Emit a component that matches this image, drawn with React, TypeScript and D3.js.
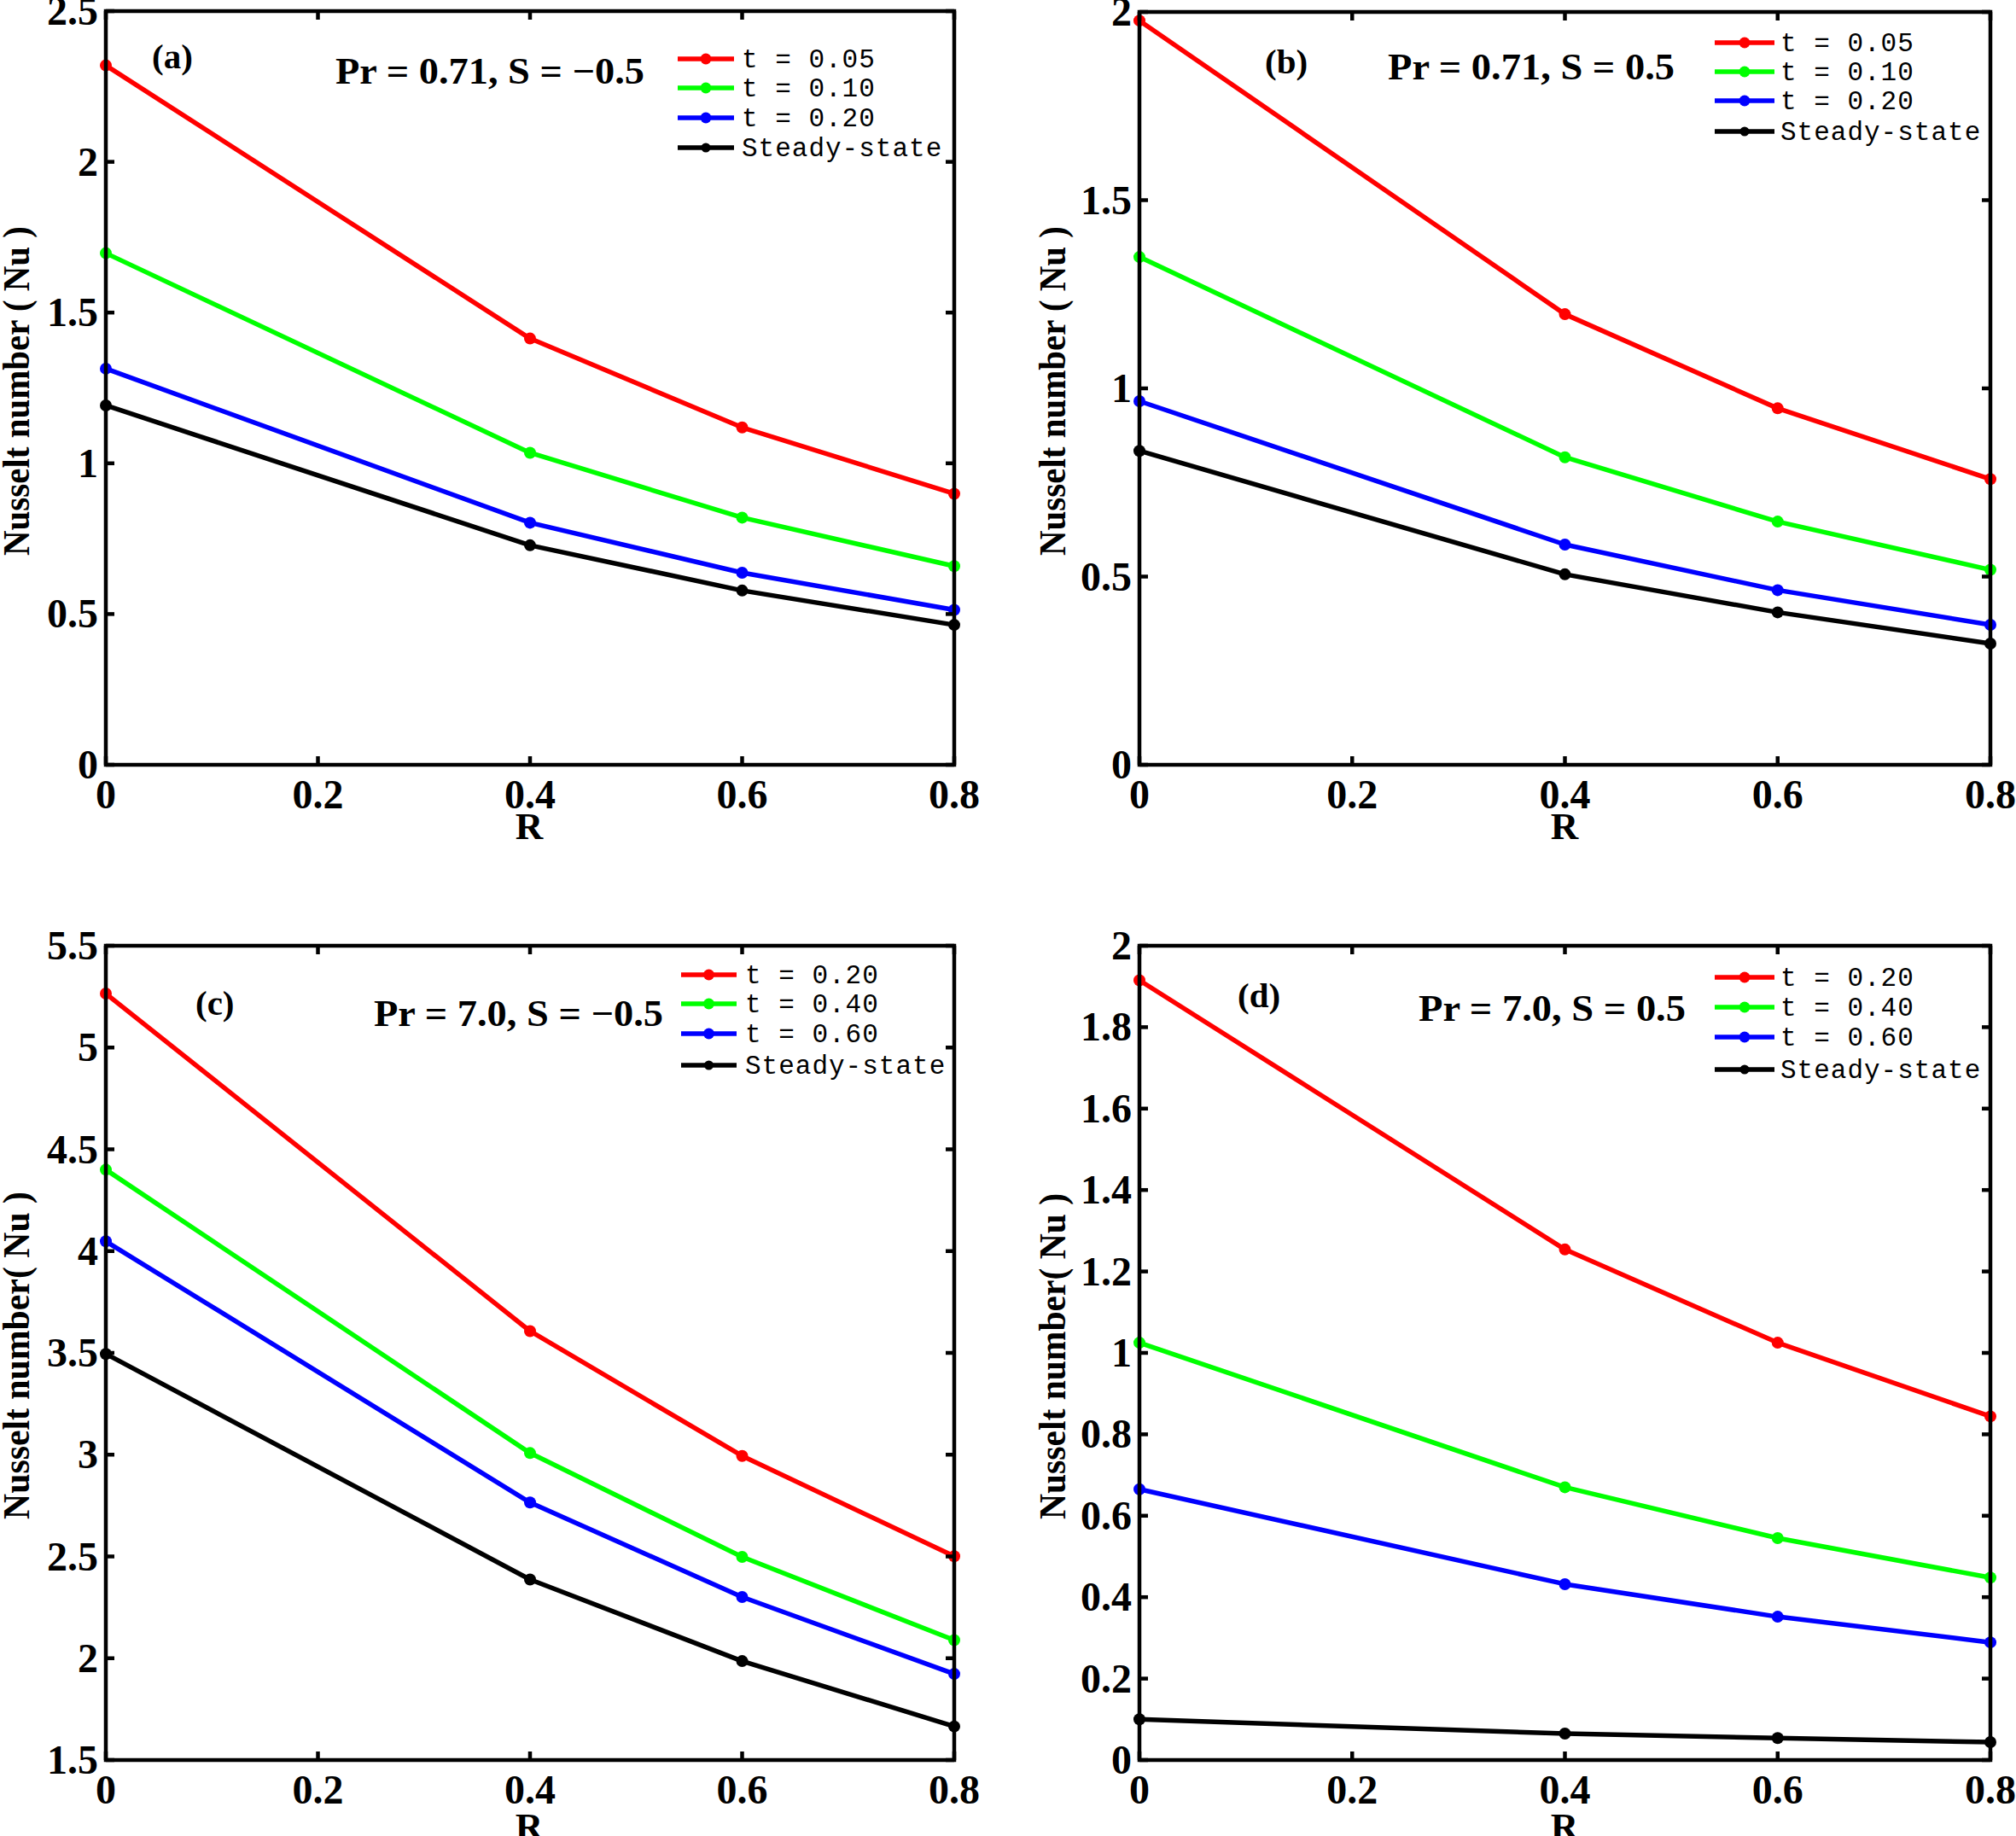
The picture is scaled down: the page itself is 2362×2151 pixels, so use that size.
import React from "react";
import * as d3 from "d3";

// ---------- data ----------
const R_VALUES = [0, 0.4, 0.6, 0.8];
const X_TICKS = [0, 0.2, 0.4, 0.6, 0.8];

const A_T005 = [2.32, 1.414, 1.119, 0.899];
const A_T010 = [1.697, 1.035, 0.82, 0.659];
const A_T020 = [1.314, 0.803, 0.637, 0.514];
const A_STEADY = [1.192, 0.728, 0.578, 0.464];

const B_T005 = [1.977, 1.197, 0.947, 0.759];
const B_T010 = [1.349, 0.817, 0.646, 0.518];
const B_T020 = [0.966, 0.585, 0.464, 0.372];
const B_STEADY = [0.834, 0.506, 0.405, 0.322];

const C_T020 = [5.265, 3.607, 2.994, 2.501];
const C_T040 = [4.4, 3.008, 2.498, 2.089];
const C_T060 = [4.048, 2.765, 2.301, 1.923];
const C_STEADY = [3.495, 2.387, 1.986, 1.665];

const D_T020 = [1.915, 1.254, 1.025, 0.844];
const D_T040 = [1.025, 0.67, 0.545, 0.448];
const D_T060 = [0.665, 0.432, 0.352, 0.289];
const D_STEADY = [0.1, 0.065, 0.054, 0.044];

const LEGEND_AB = ["t = 0.05", "t = 0.10", "t = 0.20", "Steady-state"];
const LEGEND_CD = ["t = 0.20", "t = 0.40", "t = 0.60", "Steady-state"];

const A_YTICKS = [0, 0.5, 1, 1.5, 2, 2.5];
const B_YTICKS = [0, 0.5, 1, 1.5, 2];
const C_YTICKS = [1.5, 2, 2.5, 3, 3.5, 4, 4.5, 5, 5.5];
const D_YTICKS = [0, 0.2, 0.4, 0.6, 0.8, 1, 1.2, 1.4, 1.6, 1.8, 2];

const COLORS = ["#ff0000", "#00ff00", "#0000ff", "#000000"];

const SERIF = "'Liberation Serif', 'Times New Roman', serif";
const MONO = "'Liberation Mono', 'DejaVu Sans Mono', monospace";

const fmt = (v: number) => String(+v.toFixed(2));

type PanelCfg = {
  series: number[][];
  legend: string[];
  yTicks: number[];
  yDomain: [number, number];
  label: string;
  params: string;
  yTitle: string;
  box: { x0: number; x1: number; y0: number; y1: number };
  legendPos: { lx0: number; lx1: number; tx: number; rows: number[] };
  labelPos: { x: number; y: number };
  paramsPos: { x0: number; x1: number; y: number };
  yTitlePos: { x: number; y0: number; y1: number };
  rTitle: { x: number; y: number };
};

const PANELS: PanelCfg[] = [
  {
    series: [A_T005, A_T010, A_T020, A_STEADY],
    legend: LEGEND_AB,
    yTicks: A_YTICKS,
    yDomain: [0, 2.5],
    label: "(a)",
    params: "Pr = 0.71, S = \u22120.5",
    yTitle: "Nusselt number ( Nu )",
    box: { x0: 124, x1: 1118, y0: 13, y1: 896 },
    legendPos: { lx0: 794, lx1: 860, tx: 869, rows: [69, 103, 138, 173] },
    labelPos: { x: 178, y: 80 },
    paramsPos: { x0: 393, x1: 755, y: 98 },
    yTitlePos: { x: 19, y0: 265, y1: 651 },
    rTitle: { x: 620, y: 983 },
  },
  {
    series: [B_T005, B_T010, B_T020, B_STEADY],
    legend: LEGEND_AB,
    yTicks: B_YTICKS,
    yDomain: [0, 2],
    label: "(b)",
    params: "Pr = 0.71, S = 0.5",
    yTitle: "Nusselt number ( Nu )",
    box: { x0: 1335, x1: 2332, y0: 14, y1: 896 },
    legendPos: { lx0: 2009, lx1: 2079, tx: 2086, rows: [50, 84, 118, 154] },
    labelPos: { x: 1482, y: 86 },
    paramsPos: { x0: 1626, x1: 1962, y: 93 },
    yTitlePos: { x: 1233, y0: 265, y1: 651 },
    rTitle: { x: 1833, y: 983 },
  },
  {
    series: [C_T020, C_T040, C_T060, C_STEADY],
    legend: LEGEND_CD,
    yTicks: C_YTICKS,
    yDomain: [1.5, 5.5],
    label: "(c)",
    params: "Pr = 7.0, S = \u22120.5",
    yTitle: "Nusselt number( Nu )",
    box: { x0: 124, x1: 1118, y0: 1108, y1: 2062 },
    legendPos: { lx0: 798, lx1: 863, tx: 873, rows: [1142, 1176, 1211, 1248] },
    labelPos: { x: 229, y: 1189 },
    paramsPos: { x0: 438, x1: 777, y: 1202 },
    yTitlePos: { x: 19, y0: 1396, y1: 1780 },
    rTitle: { x: 620, y: 2155 },
  },
  {
    series: [D_T020, D_T040, D_T060, D_STEADY],
    legend: LEGEND_CD,
    yTicks: D_YTICKS,
    yDomain: [0, 2],
    label: "(d)",
    params: "Pr = 7.0, S = 0.5",
    yTitle: "Nusselt number( Nu )",
    box: { x0: 1335, x1: 2332, y0: 1108, y1: 2062 },
    legendPos: { lx0: 2009, lx1: 2079, tx: 2086, rows: [1145, 1180, 1215, 1253] },
    labelPos: { x: 1450, y: 1180 },
    paramsPos: { x0: 1662, x1: 1975, y: 1196 },
    yTitlePos: { x: 1233, y0: 1398, y1: 1780 },
    rTitle: { x: 1833, y: 2155 },
  },
];

const TICK = 10;
const AXIS_W = 4.5;
const LINE_W = 5.5;
const MARK_R = 7;
const TICK_FS = 48;

function Panel({ cfg }: { cfg: PanelCfg }) {
  const { box } = cfg;
  const x = d3.scaleLinear().domain([0, 0.8]).range([box.x0, box.x1]);
  const y = d3.scaleLinear().domain(cfg.yDomain).range([box.y1, box.y0]);
  const line = d3
    .line<number>()
    .x((_, i) => x(R_VALUES[i]))
    .y((d) => y(d));

  const yMid = (cfg.yTitlePos.y0 + cfg.yTitlePos.y1) / 2;
  const yLen = cfg.yTitlePos.y1 - cfg.yTitlePos.y0;

  return (
    <g>
      {/* series */}
      {cfg.series.map((s, si) => (
        <g key={si}>
          <path d={line(s) || ""} fill="none" stroke={COLORS[si]} strokeWidth={LINE_W} strokeLinejoin="round" />
          {s.map((v, i) => (
            <circle key={i} cx={x(R_VALUES[i])} cy={y(v)} r={MARK_R} fill={COLORS[si]} />
          ))}
        </g>
      ))}

      {/* ticks */}
      {X_TICKS.map((t) => (
        <g key={"xt" + t}>
          <line x1={x(t)} x2={x(t)} y1={box.y1} y2={box.y1 - TICK} stroke="#000" strokeWidth={AXIS_W} />
          <line x1={x(t)} x2={x(t)} y1={box.y0} y2={box.y0 + TICK} stroke="#000" strokeWidth={AXIS_W} />
          <text x={x(t)} y={box.y1 + 51} textAnchor="middle" fontFamily={SERIF} fontWeight="bold" fontSize={TICK_FS}>
            {fmt(t)}
          </text>
        </g>
      ))}
      {cfg.yTicks.map((t) => (
        <g key={"yt" + t}>
          <line x1={box.x0} x2={box.x0 + TICK} y1={y(t)} y2={y(t)} stroke="#000" strokeWidth={AXIS_W} />
          <line x1={box.x1} x2={box.x1 - TICK} y1={y(t)} y2={y(t)} stroke="#000" strokeWidth={AXIS_W} />
          <text x={box.x0 - 9} y={y(t) + 16} textAnchor="end" fontFamily={SERIF} fontWeight="bold" fontSize={TICK_FS}>
            {fmt(t)}
          </text>
        </g>
      ))}

      {/* axes box */}
      <rect x={box.x0} y={box.y0} width={box.x1 - box.x0} height={box.y1 - box.y0} fill="none" stroke="#000" strokeWidth={AXIS_W} />

      {/* titles */}
      <text
        transform={`translate(${cfg.yTitlePos.x + 15},${yMid}) rotate(-90)`}
        textAnchor="middle"
        fontFamily={SERIF}
        fontWeight="bold"
        fontSize={45}
        textLength={yLen}
        lengthAdjust="spacingAndGlyphs"
      >
        {cfg.yTitle}
      </text>
      <text x={cfg.rTitle.x} y={cfg.rTitle.y} textAnchor="middle" fontFamily={SERIF} fontWeight="bold" fontSize={45}>
        R
      </text>

      {/* annotations */}
      <text x={cfg.labelPos.x} y={cfg.labelPos.y} fontFamily={SERIF} fontWeight="bold" fontSize={41}>
        {cfg.label}
      </text>
      <text
        x={cfg.paramsPos.x0}
        y={cfg.paramsPos.y}
        fontFamily={SERIF}
        fontWeight="bold"
        fontSize={44}
        textLength={cfg.paramsPos.x1 - cfg.paramsPos.x0}
        lengthAdjust="spacingAndGlyphs"
      >
        {cfg.params}
      </text>

      {/* legend */}
      {cfg.legend.map((lab, i) => {
        const ry = cfg.legendPos.rows[i];
        const mx = (cfg.legendPos.lx0 + cfg.legendPos.lx1) / 2;
        return (
          <g key={"lg" + i}>
            <line x1={cfg.legendPos.lx0} x2={cfg.legendPos.lx1} y1={ry} y2={ry} stroke={COLORS[i]} strokeWidth={LINE_W} />
            <circle cx={mx} cy={ry} r={i === 3 ? 5.5 : 6.5} fill={COLORS[i]} />
            <text x={cfg.legendPos.tx} y={ry + 10} fontFamily={MONO} fontSize={31} letterSpacing={1}>
              {lab}
            </text>
          </g>
        );
      })}
    </g>
  );
}

export default function App() {
  return (
    <svg
      width={2362}
      height={2151}
      viewBox="0 0 2362 2151"
      style={{ position: "absolute", left: 0, top: 0, background: "#fff" }}
    >
      <rect x={0} y={0} width={2362} height={2151} fill="#fff" />
      {PANELS.map((p, i) => (
        <Panel key={i} cfg={p} />
      ))}
    </svg>
  );
}
